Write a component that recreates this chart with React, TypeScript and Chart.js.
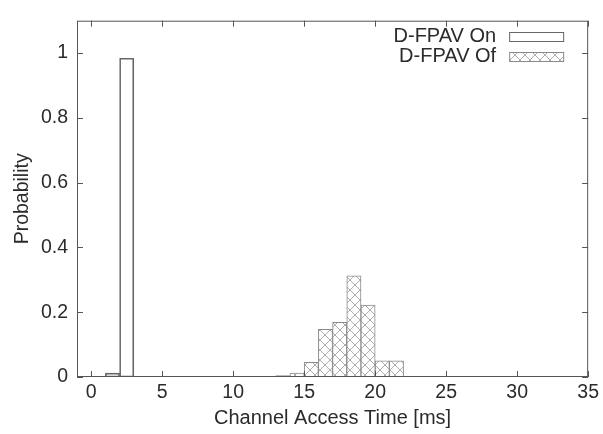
import React, { useEffect, useRef } from "react";
import { Chart, registerables } from "chart.js";

Chart.register(...registerables);

// Histogram bins (bin centers, bin width = 1 ms)
const onBinCenters = [1.5, 2.5];
const onValues = [0.012, 0.984];
const offBinCenters = [13.5, 14.5, 15.5, 16.5, 17.5, 18.5, 19.5, 20.5, 21.5];
const offValues = [0.004, 0.012, 0.045, 0.147, 0.169, 0.312, 0.222, 0.05, 0.05];

const seriesLabels = ["D-FPAV On", "D-FPAV Of"];
const xTickValues = [0, 5, 10, 15, 20, 25, 30, 35];
const yTickValues = [0, 0.2, 0.4, 0.6, 0.8, 1];
const xTitle = "Channel Access Time [ms]";
const yTitle = "Probability";

const FONT = "'Liberation Sans', Arial, Helvetica, sans-serif";
const FS = 19.5;
const TEXT = "#2b2b2b";
const LINE = "#555";
const ON_LINE = "#666";
const OFF_LINE = "#8a8a8a";

function makeHatch(): CanvasPattern | string {
  const c = document.createElement("canvas");
  c.width = 10;
  c.height = 10;
  const g = c.getContext("2d");
  if (!g) return "#fff";
  g.fillStyle = "#fff";
  g.fillRect(0, 0, 10, 10);
  g.strokeStyle = "#999";
  g.lineWidth = 0.8;
  g.beginPath();
  g.moveTo(-1, -1);
  g.lineTo(11, 11);
  g.moveTo(11, -1);
  g.lineTo(-1, 11);
  g.stroke();
  return g.createPattern(c, "repeat") || "#fff";
}

export default function App() {
  const ref = useRef<HTMLCanvasElement>(null);

  useEffect(() => {
    if (!ref.current) return;
    const hatch = makeHatch();

    const framePlugin = {
      id: "gnuplotFrame",
      afterDraw(chart: any) {
        const { ctx, chartArea } = chart;
        const { left, right, top, bottom } = chartArea;
        const xs = chart.scales.x;
        const ys = chart.scales.y;
        ctx.save();
        ctx.strokeStyle = LINE;
        ctx.lineWidth = 1;
        ctx.strokeRect(left + 0.5, top + 0.5, right - left - 1, bottom - top - 1);
        ctx.beginPath();
        const tl = 6;
        xTickValues.forEach((v) => {
          const px = Math.round(xs.getPixelForValue(v)) + 0.5;
          ctx.moveTo(px, bottom);
          ctx.lineTo(px, bottom - tl);
          ctx.moveTo(px, top);
          ctx.lineTo(px, top + tl);
        });
        yTickValues.forEach((v) => {
          const py = Math.round(ys.getPixelForValue(v)) + 0.5;
          ctx.moveTo(left, py);
          ctx.lineTo(left + tl, py);
          ctx.moveTo(right, py);
          ctx.lineTo(right - tl, py);
        });
        ctx.stroke();

        // legend (gnuplot style: text right-aligned, sample box on the right)
        ctx.font = `20px ${FONT}`;
        ctx.textAlign = "right";
        ctx.textBaseline = "middle";
        const textX = right - 92;
        const boxX = right - 79;
        const boxW = 54;
        const boxH = 9;
        const rows = [
          { y: top + 15.5, fill: "#fff" as any, line: ON_LINE },
          { y: top + 36, fill: hatch as any, line: OFF_LINE },
        ];
        rows.forEach((r, i) => {
          ctx.fillStyle = TEXT;
          ctx.fillText(seriesLabels[i], textX, r.y);
          ctx.fillStyle = r.fill;
          ctx.fillRect(boxX, r.y - boxH / 2, boxW, boxH);
          ctx.strokeStyle = r.line;
          ctx.strokeRect(boxX + 0.5, Math.round(r.y - boxH / 2) + 0.5, boxW, boxH);
        });
        ctx.restore();
      },
    };

    const chart = new Chart(ref.current, {
      type: "bar",
      data: {
        datasets: [
          {
            label: seriesLabels[0],
            data: onBinCenters.map((x, i) => ({ x, y: onValues[i] })),
            backgroundColor: "rgba(255,255,255,0)",
            borderColor: ON_LINE,
            borderWidth: 1,
            borderSkipped: false,
            grouped: false,
            barPercentage: 1,
            categoryPercentage: 1,
          } as any,
          {
            label: seriesLabels[1],
            data: offBinCenters.map((x, i) => ({ x, y: offValues[i] })),
            backgroundColor: hatch as any,
            borderColor: OFF_LINE,
            borderWidth: 1,
            borderSkipped: false,
            grouped: false,
            barPercentage: 1,
            categoryPercentage: 1,
          } as any,
        ],
      },
      options: {
        animation: false,
        responsive: false,
        maintainAspectRatio: false,
        layout: { padding: { left: 0, right: 11, top: 8, bottom: 0 } },
        plugins: {
          legend: { display: false },
          tooltip: { enabled: false },
        },
        scales: {
          x: {
            type: "linear",
            min: -1,
            max: 35,
            offset: false,
            grid: { display: false, drawTicks: false },
            border: { display: false },
            afterBuildTicks: (s: any) => {
              s.ticks = xTickValues.map((v) => ({ value: v }));
            },
            afterFit: (s: any) => {
              s.height = 57;
            },
            ticks: {
              autoSkip: false,
              maxRotation: 0,
              padding: 4,
              color: TEXT,
              font: { family: FONT, size: FS },
              callback: (v: any) => String(v),
            },
            title: {
              display: true,
              text: xTitle,
              color: TEXT,
              font: { family: FONT, size: 20 },
              padding: { top: 0, bottom: 4 },
            },
          },
          y: {
            type: "linear",
            min: 0,
            max: 1.1,
            grid: { display: false, drawTicks: false },
            border: { display: false },
            afterBuildTicks: (s: any) => {
              s.ticks = yTickValues.map((v) => ({ value: v }));
            },
            afterFit: (s: any) => {
              s.width = 77;
            },
            ticks: {
              autoSkip: false,
              padding: 9,
              color: TEXT,
              font: { family: FONT, size: FS },
              callback: (v: any) => String(Math.round(Number(v) * 10) / 10),
            },
            title: {
              display: true,
              text: yTitle,
              color: TEXT,
              font: { family: FONT, size: FS },
              padding: { top: 11, bottom: 0 },
            },
          },
        },
      },
      plugins: [framePlugin],
    } as any);

    return () => chart.destroy();
  }, []);

  return (
    <div style={{ position: "absolute", left: 0, top: 0, width: 603, height: 434, background: "#fff" }}>
      <canvas ref={ref} width={603} height={434} style={{ width: 603, height: 434, display: "block" }} />
    </div>
  );
}
